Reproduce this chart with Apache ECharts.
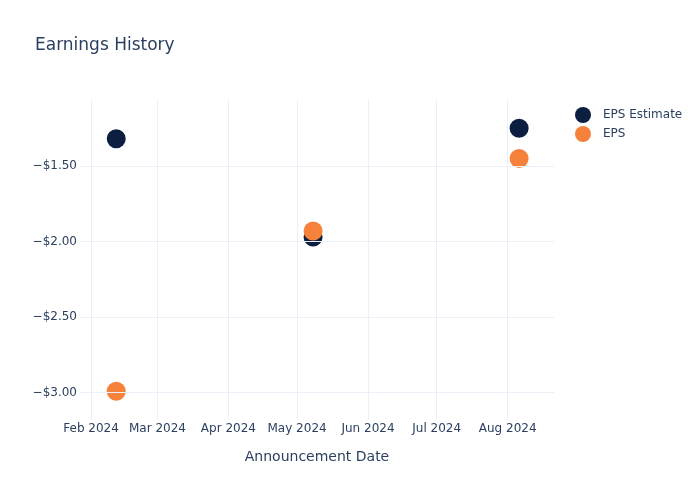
<!DOCTYPE html>
<html>
<head>
<meta charset="utf-8">
<script src="https://cdn.jsdelivr.net/npm/echarts@6/dist/echarts.min.js"></script>
<style>html,body{margin:0;padding:0;background:#fff}#c{width:700px;height:500px}</style>
</head>
<body>
<div id="c"></div>
<script>
const dates = ['2024-02-12', '2024-05-08', '2024-08-06'];
const epsEstimate = [-1.32, -1.97, -1.25];
const eps = [-2.99, -1.93, -1.45];
const yTicks = [-3.0, -2.5, -2.0, -1.5];
const monthNames = ['Jan','Feb','Mar','Apr','May','Jun','Jul','Aug','Sep','Oct','Nov','Dec'];

const font = 'DejaVu Sans, Verdana, sans-serif';
const textColor = '#2a3f5f';
const gridColor = '#ebf0f8';

function toDate(s){ const p = s.split('-').map(Number); return new Date(p[0], p[1]-1, p[2]).getTime(); }
const xMin = new Date(2024, 0, 27, 4).getTime();
const xMax = new Date(2024, 7, 21, 6).getTime();

const chart = echarts.init(document.getElementById('c'), null, {renderer: 'canvas'});
chart.setOption({
  backgroundColor: '#fff',
  animation: false,
  textStyle: {fontFamily: font},
  title: {
    text: 'Earnings History', left: 30, top: 32,
    textStyle: {fontFamily: font, fontSize: 17, fontWeight: 'normal', color: textColor}
  },
  legend: {
    orient: 'vertical', left: 570, top: 102,
    itemWidth: 16, itemHeight: 16, itemGap: 3, icon: 'circle',
    textStyle: {fontFamily: font, fontSize: 12, color: textColor, padding: [0,0,0,7]},
    data: ['EPS Estimate', 'EPS']
  },
  grid: {left: 80, right: 146, top: 100, bottom: 80, containLabel: false},
  xAxis: {
    type: 'time', min: xMin, max: xMax, splitNumber: 8,
    minInterval: 28*86400000, maxInterval: 31*86400000,
    name: 'Announcement Date', nameLocation: 'middle', nameGap: 30,
    nameTextStyle: {fontFamily: font, fontSize: 14, color: textColor},
    axisLine: {show: false}, axisTick: {show: false},
    axisLabel: {
      fontFamily: font, fontSize: 12, color: textColor, margin: 3,
      showMinLabel: false, showMaxLabel: false, hideOverlap: false,
      formatter: function (v) { const d = new Date(v); return monthNames[d.getMonth()] + ' ' + d.getFullYear(); }
    },
    splitLine: {show: true, showMinLine: false, showMaxLine: false, lineStyle: {color: gridColor, width: 1}}
  },
  yAxis: {
    type: 'value', min: -3.1806, max: -1.0635,
    axisLine: {show: false}, axisTick: {show: false},
    axisLabel: {
      fontFamily: font, fontSize: 12, color: textColor, margin: 3,
      customValues: yTicks,
      formatter: function (v) { return (v < 0 ? '\u2212' : '') + '$' + Math.abs(v).toFixed(2); }
    },
    splitLine: {show: false}
  },
  series: [
    {
      name: 'EPS Estimate', type: 'scatter', symbolSize: 19,
      itemStyle: {color: '#0c1f41', opacity: 1},
      data: dates.map((d, i) => [toDate(d), epsEstimate[i]]), z: 3
    },
    {
      name: 'EPS', type: 'scatter', symbolSize: 19,
      itemStyle: {color: '#f6813a', opacity: 1},
      data: dates.map((d, i) => [toDate(d), eps[i]]), z: 4
    },
    {
      name: 'ygrid', type: 'line', silent: true, symbol: 'none', data: [],
      markLine: {
        silent: true, symbol: 'none', label: {show: false},
        lineStyle: {color: gridColor, width: 1, type: 'solid'},
        data: yTicks.map(v => ({yAxis: v}))
      }, z: 1
    }
  ]
});
</script>
</body>
</html>
